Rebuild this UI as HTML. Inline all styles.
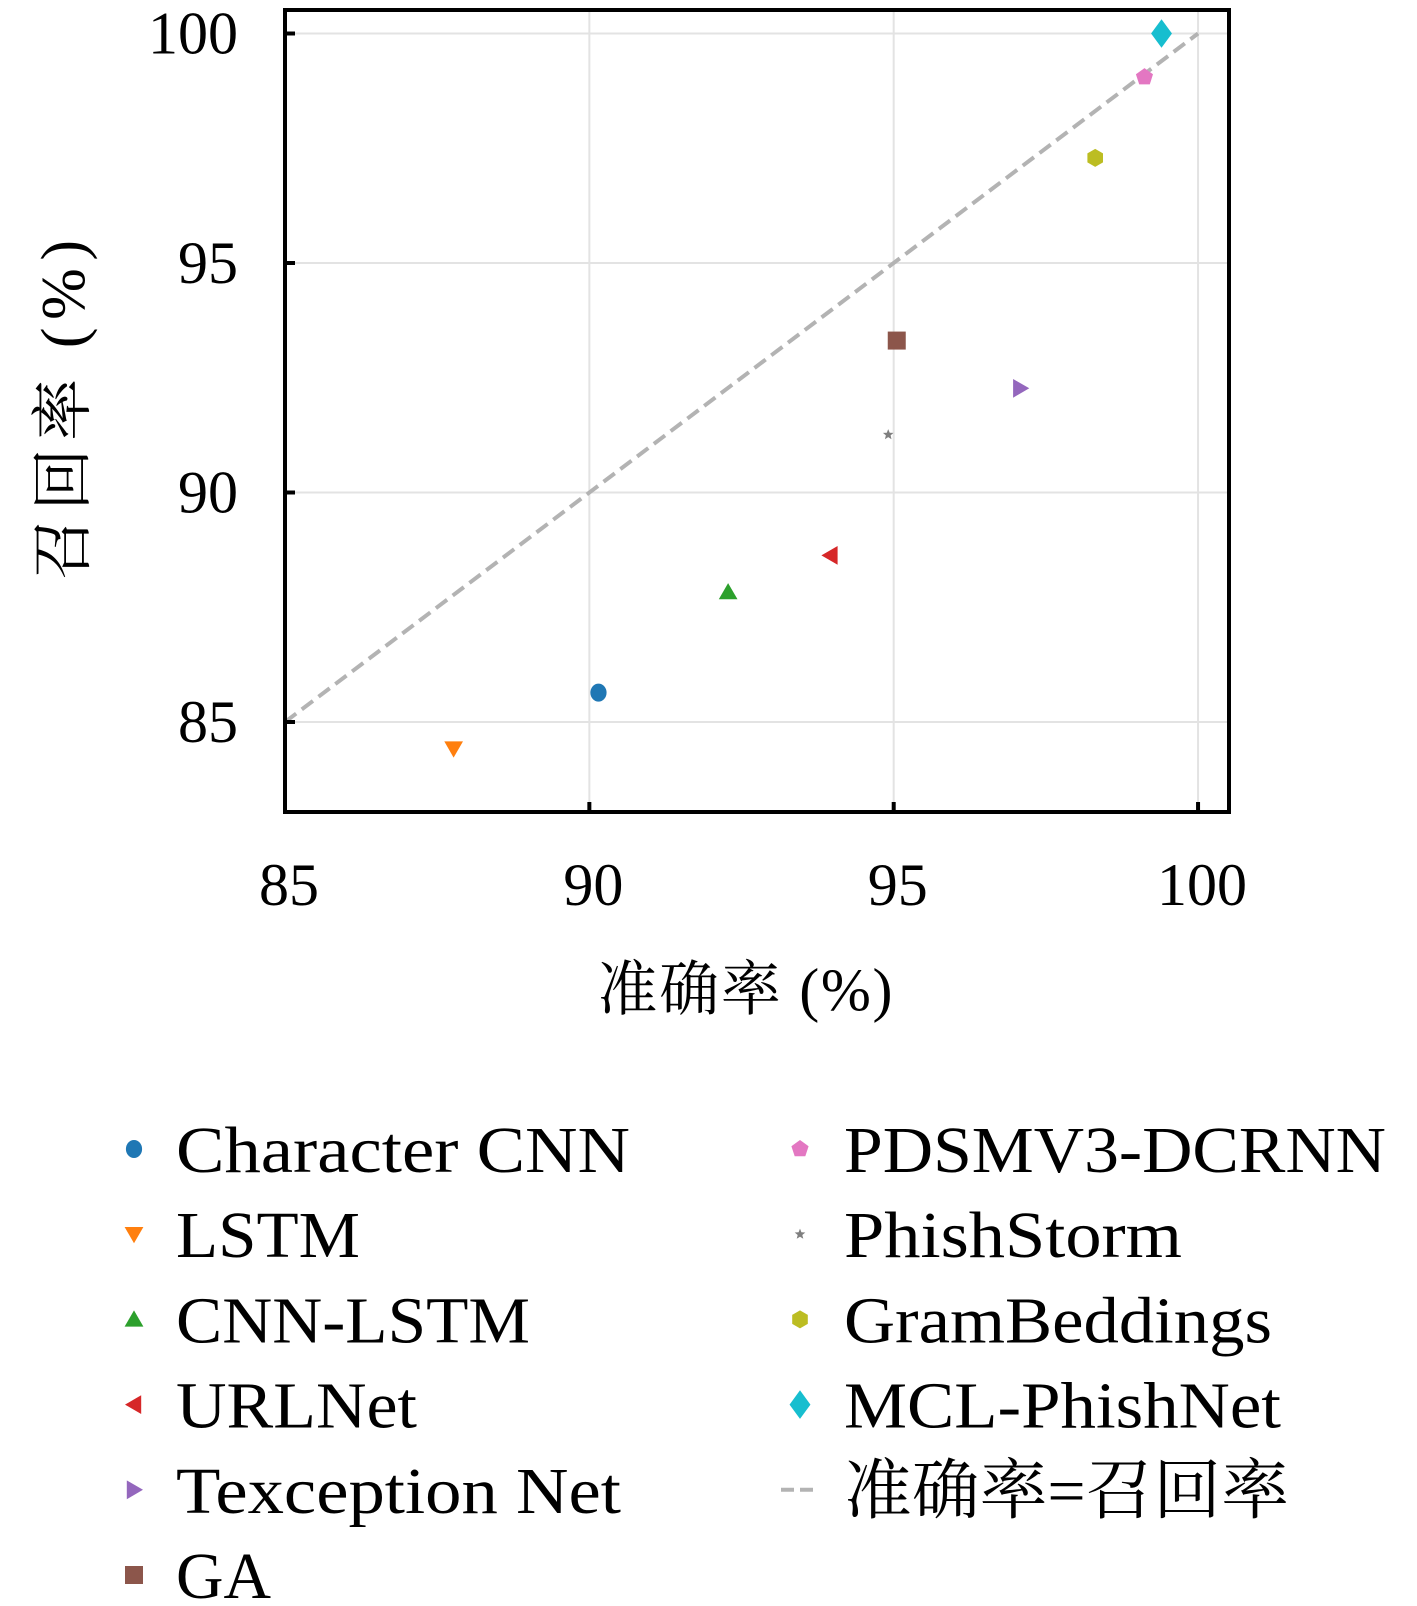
<!DOCTYPE html>
<html><head><meta charset="utf-8"><style>
html,body{margin:0;padding:0;background:#fff;}
svg{display:block;}
text{font-family:"Liberation Serif","Noto Serif CJK SC",serif;fill:#000;}
</style></head><body>
<svg id="chart" width="1417" height="1606" viewBox="0 0 1417 1606" xmlns="http://www.w3.org/2000/svg">
<g id="grid"></g>
<g id="marks"></g>
<rect x="285" y="10" width="944" height="802" fill="none" stroke="#000" stroke-width="4"/>
<g id="ticks"></g>
<text x="745" y="1010" font-size="60" text-anchor="middle" textLength="295">准确率 (%)</text>
<text transform="translate(84,410) rotate(-90)" font-size="62" text-anchor="middle" textLength="340">召回率 (%)</text>
<g id="legend"></g>
</svg>
<script>
const names = ["Character CNN","LSTM","CNN-LSTM","URLNet","Texception Net","GA","PDSMV3-DCRNN","PhishStorm","GramBeddings","MCL-PhishNet"];
const accuracy = [90.15,87.77,92.28,93.96,97.08,95.05,99.12,94.91,98.31,99.40];
const recall = [85.64,84.42,87.83,88.63,92.27,93.31,99.05,91.26,97.29,100.0];
const colors = ["#1f77b4","#ff7f0e","#2ca02c","#d62728","#9467bd","#8c564b","#e377c2","#7f7f7f","#bcbd22","#17becf"];
const shapes = ["circle","tri-down","tri-up","tri-left","tri-right","square","pentagon","star","hexagon","diamond"];
const xTicks = [85,90,95,100];
const yTicks = [85,90,95,100];
const xTickLabels = ["85","90","95","100"];
const yTickLabels = ["85","90","95","100"];
const legendWidths = [454,184,354,241,445,95,542,338,428,437];

const NS="http://www.w3.org/2000/svg";
function X(v){return 285+(v-85)*60.87;}
function Y(v){return 33.5+(100-v)*45.9;}
function mk(tag,attrs,parent){const e=document.createElementNS(NS,tag);for(const k in attrs)e.setAttribute(k,attrs[k]);parent.appendChild(e);return e;}
function poly(cx,cy,n,r,rot,inner){let p=[];const m=inner?2*n:n;for(let i=0;i<m;i++){const a=rot+i*Math.PI*2/m;const rr=inner&&i%2?inner:r;p.push((cx+rr*Math.cos(a)).toFixed(1)+","+(cy+rr*Math.sin(a)).toFixed(1));}return p.join(" ");}
function marker(shape,cx,cy,s,color,parent){
  let el;
  const up=-Math.PI/2;
  if(shape==="circle") el=mk("ellipse",{cx:cx,cy:cy,rx:s*0.9,ry:s,fill:color},parent);
  else if(shape==="square") el=mk("rect",{x:cx-s,y:cy-s,width:2*s,height:2*s,fill:color},parent);
  else if(shape==="tri-up") el=mk("polygon",{points:poly(cx,cy+s*0.2,3,s*1.2,up),fill:color},parent);
  else if(shape==="tri-down") el=mk("polygon",{points:poly(cx,cy-s*0.2,3,s*1.2,Math.PI/2),fill:color},parent);
  else if(shape==="tri-left") el=mk("polygon",{points:poly(cx+s*0.2,cy,3,s*1.2,Math.PI),fill:color},parent);
  else if(shape==="tri-right") el=mk("polygon",{points:poly(cx-s*0.2,cy,3,s*1.2,0),fill:color},parent);
  else if(shape==="pentagon") el=mk("polygon",{points:poly(cx,cy,5,s,up),fill:color},parent);
  else if(shape==="hexagon") el=mk("polygon",{points:poly(cx,cy,6,s,up),fill:color},parent);
  else if(shape==="star") el=mk("polygon",{points:poly(cx,cy,5,s*0.8,up,s*0.35),fill:color},parent);
  else if(shape==="diamond") el=mk("polygon",{points:`${cx},${cy-s*1.3} ${cx+s*0.95},${cy} ${cx},${cy+s*1.3} ${cx-s*0.95},${cy}`,fill:color},parent);
  return el;
}
function msize(shape){return shape==="star"?7:(shape==="diamond"?11:9);}
const grid=document.getElementById("grid"),ticks=document.getElementById("ticks"),marks=document.getElementById("marks"),legend=document.getElementById("legend");
xTicks.forEach((t,i)=>{
  const g=mk("line",{x1:X(t),x2:X(t),y1:12,y2:810,stroke:"#e3e3e3","stroke-width":2},grid);
  
  
  const tk=mk("line",{x1:X(t),x2:X(t),y1:812,y2:802,stroke:"#000","stroke-width":4},ticks);
  
  
  const tl=mk("text",{x:X(t)+4,y:905,"font-size":60,"text-anchor":"middle"},ticks);
  tl.textContent=xTickLabels[i];
  
  
});
yTicks.forEach((t,i)=>{
  const g=mk("line",{x1:287,x2:1227,y1:Y(t),y2:Y(t),stroke:"#e3e3e3","stroke-width":2},grid);
  
  
  const tk=mk("line",{x1:285,x2:295,y1:Y(t),y2:Y(t),stroke:"#000","stroke-width":4},ticks);
  
  
  const tl=mk("text",{x:238,y:Y(t)+20,"font-size":60,"text-anchor":"end"},ticks);
  tl.textContent=yTickLabels[i];
  
  
});
const diag=mk("line",{x1:X(85),y1:Y(85),x2:X(100),y2:Y(100),stroke:"#b3b3b3","stroke-width":4,"stroke-dasharray":"14,7"},marks);


names.forEach((n,i)=>{
  const m=marker(shapes[i],X(accuracy[i]),Y(recall[i]),msize(shapes[i]),colors[i],marks);
  
  
});
const entries = names.map((n,i)=>({n:n,i:i})).concat([{n:"准确率=召回率",i:-1}]);
const leftCount=6;
entries.forEach((e,k)=>{
  const col=k<leftCount?0:1, row=col?k-leftCount:k;
  const mx=col?800:134, tx=col?844:176, cy=1149+row*85.2;
  const g=mk("g",{},legend);
  
  
  if(e.i>=0){
    marker(shapes[e.i],mx,cy,msize(shapes[e.i]),colors[e.i],g);
  } else {
    mk("line",{x1:mx-19,x2:mx+19,y1:cy,y2:cy,stroke:"#b3b3b3","stroke-width":4,"stroke-dasharray":"13,6"},g);
  }
  const w = e.i>=0?legendWidths[e.i]:445;
  const t=mk("text",{x:tx,y:cy+23,"font-size":66,textLength:w,lengthAdjust:"spacingAndGlyphs"},g);
  t.textContent=e.n;
});
</script>
</body></html>
